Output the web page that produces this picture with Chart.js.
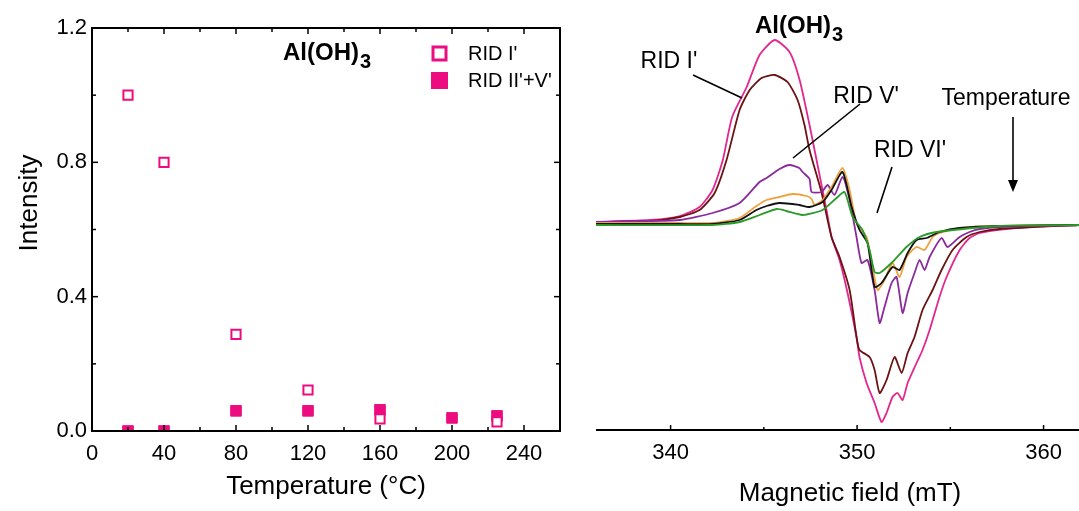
<!DOCTYPE html>
<html>
<head>
<meta charset="utf-8">
<title>Al(OH)3 RID intensity and EPR spectra</title>
<script src="https://cdn.jsdelivr.net/npm/chart.js@4.4.1/dist/chart.umd.min.js"></script>
<style>
  html, body { margin: 0; padding: 0; background: #fff; }
  #wrap { position: relative; width: 1079px; height: 511px; overflow: hidden; }
  #left { position: absolute; left: 0; top: 0; }
  #right { position: absolute; left: 575px; top: 0; }
</style>
</head>
<body>
<div id="wrap">
  <canvas id="left" width="575" height="511"></canvas>
  <canvas id="right" width="504" height="511"></canvas>
</div>
<script>
// --- left panel: intensity vs annealing temperature ---
const tempsRidI = [20, 40, 80, 120, 160, 225];
const ridI = [1.0, 0.8, 0.288, 0.122, 0.036, 0.027];
const tempsRidIIV = [20, 40, 80, 120, 160, 200, 225];
const ridIIV = [0.0, 0.0, 0.06, 0.06, 0.063, 0.039, 0.045];
const tempTicks = [0, 40, 80, 120, 160, 200, 240];
const intensityTicks = [0, 0.4, 0.8, 1.2];

// --- right panel: EPR spectra, field (mT) vs signal (arb. units), highest trace first ---
const specPink = [[336.0,2],[338.9,4],[340.5,8],[341.55,17],[342.25,34],[342.8,64],[343.3,107],[344.08,137],[344.77,169],[345.58,184],[346.38,172],[346.92,144],[347.45,99],[347.72,74],[348.36,14],[348.63,-13],[349.06,-36],[349.49,-69],[349.97,-113],[350.13,-133],[350.51,-159],[350.94,-179],[351.31,-198],[351.58,-189],[351.9,-173],[352.17,-169],[352.44,-176],[352.71,-159],[353.19,-139],[353.51,-126],[353.89,-106],[354.42,-73],[354.8,-53],[355.5,-26],[356.03,-14],[356.57,-9],[357.48,-6],[359.25,-3],[361.9,-1]];
const specBrown = [[336.0,2],[338.9,3],[340.5,7],[341.55,14],[342.36,31],[343.0,64],[343.7,114],[344.24,134],[344.88,146],[345.58,149],[346.27,142],[346.81,124],[347.18,99],[347.45,74],[348.1,31],[348.63,-13],[349.06,-33],[349.6,-66],[349.97,-113],[350.13,-126],[350.67,-133],[350.94,-146],[351.21,-169],[351.58,-156],[352.01,-133],[352.39,-149],[352.71,-129],[353.08,-113],[353.51,-86],[354.05,-66],[354.53,-46],[355.12,-26],[355.87,-13],[356.57,-8],[357.64,-5],[361.9,-1]];
const specPurple = [[336.0,2],[338.9,3],[340.5,4],[342.25,11],[343.7,21],[344.77,42],[345.15,46],[345.84,55],[346.38,59],[346.9,56],[347.08,52],[347.45,45],[347.56,32],[348.1,32],[348.42,39],[348.79,29],[349.22,47],[349.6,24],[349.97,-13],[350.24,-39],[350.56,-36],[350.94,-66],[351.21,-99],[351.47,-83],[351.85,-59],[352.12,-53],[352.44,-89],[352.71,-69],[353.08,-49],[353.35,-36],[353.62,-46],[353.89,-33],[354.53,-14],[354.85,-23],[355.5,-13],[356.03,-8],[356.57,-5],[357.6,-3],[361.9,-1]];
const specOrange = [[336.0,1],[338.9,1],[340.5,1],[342.25,1],[343.7,6],[344.6,18],[345.15,24],[345.84,27],[346.54,30],[347.29,28],[347.56,25],[347.72,19],[348.15,24],[348.63,37],[349.22,56],[349.6,34],[349.97,1],[350.51,-13],[350.83,-43],[351.1,-66],[351.47,-56],[351.9,-39],[352.28,-53],[352.65,-33],[353.19,-23],[353.62,-26],[354.05,-13],[354.42,-9],[355.5,-4],[357.64,-2],[361.9,-1]];
const specBlack = [[336.0,0],[338.9,0],[340.5,0],[342.25,0],[343.7,4],[344.6,14],[345.15,18],[345.84,21],[346.9,19],[347.45,17],[348.15,22],[348.63,34],[349.22,52],[349.71,17],[350.13,-6],[350.56,-19],[350.94,-63],[351.31,-59],[351.9,-43],[352.28,-46],[352.71,-29],[353.19,-16],[353.73,-14],[354.42,-8],[355.5,-4],[357.64,-2],[361.9,-1]];
const specGreen = [[336.0,-1],[342.25,-1],[343.7,2],[344.77,9],[345.69,15],[346.2,13],[347.08,9],[348.15,14],[348.9,26],[349.33,32],[349.76,7],[350.29,-6],[350.67,-26],[350.94,-48],[351.21,-49],[351.9,-38],[352.65,-23],[353.35,-13],[354.26,-8],[355.66,-5],[357.64,-2],[361.9,-1]];
const fieldTicks = [340, 350, 360];

const FONT = "'Liberation Sans', Arial, sans-serif";
const PINK = '#ec0c80';

function drawLine(ctx, x1, y1, x2, y2) {
  ctx.beginPath();
  ctx.moveTo(x1, y1);
  ctx.lineTo(x2, y2);
  ctx.stroke();
}

function drawTitle(ctx, x, baseline) {
  ctx.fillStyle = '#000';
  ctx.textAlign = 'left';
  ctx.textBaseline = 'alphabetic';
  ctx.font = `bold 24px ${FONT}`;
  ctx.fillText('Al(OH)', x, baseline);
  const w = ctx.measureText('Al(OH)').width;
  ctx.font = `bold 20px ${FONT}`;
  ctx.fillText('3', x + w + 1, baseline + 8);
}

const leftDecor = {
  id: 'leftDecor',
  afterDraw(chart) {
    const { ctx, chartArea: a, scales: { x, y } } = chart;
    ctx.save();
    ctx.strokeStyle = '#000';
    ctx.lineWidth = 2;
    ctx.strokeRect(a.left, a.top, a.right - a.left, a.bottom - a.top);
    ctx.lineWidth = 1.5;
    for (let v = 20; v < 260; v += 20) {
      const px = x.getPixelForValue(v);
      const len = v % 40 === 0 ? 6 : 4;
      drawLine(ctx, px, a.bottom, px, a.bottom - len);
      drawLine(ctx, px, a.top, px, a.top + len);
    }
    for (let v = 0.2; v < 1.2; v += 0.2) {
      const py = y.getPixelForValue(v);
      const len = Math.round(v * 10) % 4 === 0 ? 6 : 4;
      drawLine(ctx, a.left, py, a.left + len, py);
      drawLine(ctx, a.right, py, a.right - len, py);
    }

    // title and legend
    drawTitle(ctx, 283, 60);
    const ds = chart.data.datasets;
    ctx.lineWidth = 3;
    ctx.strokeStyle = ds[0].pointBorderColor;
    ctx.fillStyle = '#fff';
    ctx.fillRect(433, 47, 13, 13);
    ctx.strokeRect(433, 47, 13, 13);
    ctx.fillStyle = ds[1].pointBackgroundColor;
    ctx.fillRect(431, 72, 17, 17);
    ctx.fillStyle = '#000';
    ctx.font = `20px ${FONT}`;
    ctx.textAlign = 'left';
    ctx.fillText(ds[0].label, 468, 60);
    ctx.fillText(ds[1].label, 468, 87);

    // axis titles
    ctx.font = `26px ${FONT}`;
    ctx.textAlign = 'center';
    ctx.textBaseline = 'middle';
    ctx.fillText('Temperature (\u00B0C)', (a.left + a.right) / 2, 487);
    ctx.translate(30, 203);
    ctx.rotate(-Math.PI / 2);
    ctx.fillText('Intensity', 0, 0);
    ctx.restore();
  }
};

new Chart(document.getElementById('left'), {
  type: 'scatter',
  data: {
    datasets: [
      {
        label: "RID I'",
        data: tempsRidI.map((t, i) => ({ x: t, y: ridI[i] })),
        pointStyle: 'rect',
        pointRadius: 6.5,
        pointBorderWidth: 2,
        pointBorderColor: PINK,
        pointBackgroundColor: '#fff',
        clip: 0
      },
      {
        label: "RID II'+V'",
        data: tempsRidIIV.map((t, i) => ({ x: t, y: ridIIV[i] })),
        pointStyle: 'rect',
        pointRadius: 7.5,
        pointBorderWidth: 1,
        pointBorderColor: PINK,
        pointBackgroundColor: PINK,
        clip: 0
      }
    ]
  },
  options: {
    responsive: false,
    animation: false,
    layout: { padding: { top: 28, right: 15, left: 0, bottom: 0 } },
    plugins: { legend: { display: false }, tooltip: { enabled: false } },
    scales: {
      x: {
        type: 'linear',
        min: 0,
        max: 260,
        grid: { display: false, drawTicks: false },
        border: { display: false },
        afterBuildTicks: s => { s.ticks = tempTicks.map(v => ({ value: v })); },
        ticks: { padding: 10, color: '#000', maxRotation: 0, font: { family: FONT, size: 22 } },
        afterFit: s => { s.height = 80; }
      },
      y: {
        min: 0,
        max: 1.2,
        grid: { display: false, drawTicks: false },
        border: { display: false },
        afterBuildTicks: s => { s.ticks = intensityTicks.map(v => ({ value: v })); },
        ticks: { padding: 5, color: '#000', font: { family: FONT, size: 22 }, callback: v => v.toFixed(1) },
        afterFit: s => { s.width = 92; }
      }
    }
  },
  plugins: [leftDecor]
});

// right panel decorations: page coordinates shifted by canvas offset
const OFF = 575;
const rightDecor = {
  id: 'rightDecor',
  afterDraw(chart) {
    const { ctx, chartArea: a, scales: { x } } = chart;
    ctx.save();
    ctx.strokeStyle = '#000';
    ctx.lineWidth = 2;
    drawLine(ctx, a.left, a.bottom, a.right, a.bottom);
    ctx.lineWidth = 1.5;
    for (let v = 340; v <= 360; v += 5) {
      const px = x.getPixelForValue(v);
      drawLine(ctx, px, a.bottom, px, a.bottom - (v % 10 === 0 ? 5 : 3));
    }
    ctx.translate(-OFF, 0);
    drawTitle(ctx, 755, 33);

    ctx.fillStyle = '#000';
    ctx.font = `23px ${FONT}`;
    ctx.textAlign = 'center';
    ctx.textBaseline = 'alphabetic';
    ctx.fillText("RID I'", 669, 68);
    ctx.fillText("RID V'", 866, 103);
    ctx.fillText("RID VI'", 910, 157);
    ctx.fillText('Temperature', 1006, 105);

    ctx.lineWidth = 1.6;
    drawLine(ctx, 693, 75, 742, 98);
    drawLine(ctx, 860, 104, 793, 158);
    drawLine(ctx, 892, 167, 877, 213);
    drawLine(ctx, 1013, 117, 1013, 182);
    ctx.beginPath();
    ctx.moveTo(1008, 180);
    ctx.lineTo(1018, 180);
    ctx.lineTo(1013, 192);
    ctx.closePath();
    ctx.fill();

    ctx.font = `26px ${FONT}`;
    ctx.textBaseline = 'middle';
    ctx.fillText('Magnetic field (mT)', 850, 494);
    ctx.restore();
  }
};

const traces = [
  { data: specPink, color: '#e2278e' },
  { data: specBrown, color: '#6b1212' },
  { data: specPurple, color: '#8a2a9c' },
  { data: specOrange, color: '#f0a03c' },
  { data: specBlack, color: '#111111' },
  { data: specGreen, color: '#2a9a2a' }
];

new Chart(document.getElementById('right'), {
  type: 'line',
  data: {
    datasets: traces.map((t, i) => ({
      data: t.data.map(p => ({ x: p[0], y: p[1] })),
      borderColor: t.color,
      borderWidth: 1.8,
      pointRadius: 0,
      tension: 0.2,
      fill: false,
      order: traces.length - i
    }))
  },
  options: {
    responsive: false,
    animation: false,
    layout: { padding: { top: 10, right: 0, left: 21, bottom: 0 } },
    plugins: { legend: { display: false }, tooltip: { enabled: false } },
    scales: {
      x: {
        type: 'linear',
        min: 336,
        max: 361.9,
        grid: { display: false, drawTicks: false },
        border: { display: false },
        afterBuildTicks: s => { s.ticks = fieldTicks.map(v => ({ value: v })); },
        ticks: { padding: 10, color: '#000', maxRotation: 0, font: { family: FONT, size: 22 } },
        afterFit: s => { s.height = 81; }
      },
      y: {
        display: false,
        min: -206,
        max: 214
      }
    }
  },
  plugins: [rightDecor]
});
</script>
</body>
</html>
